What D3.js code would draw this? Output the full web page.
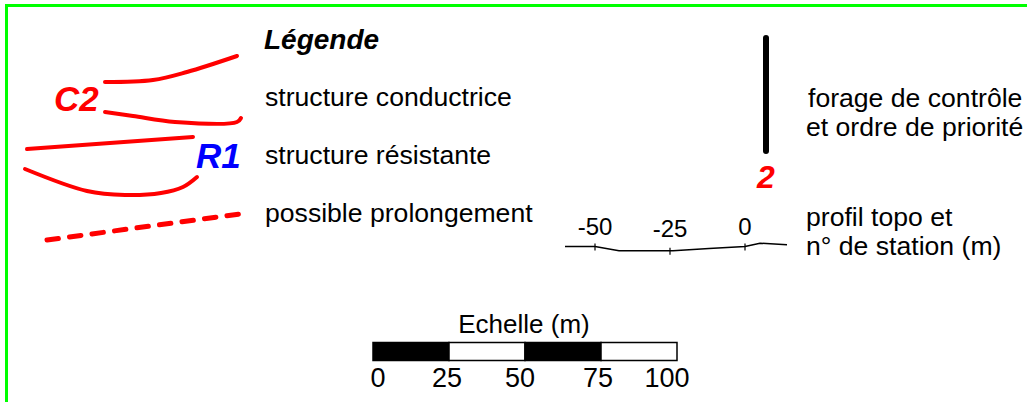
<!DOCTYPE html>
<html><head><meta charset="utf-8">
<script src="https://cdn.jsdelivr.net/npm/d3@7"></script>
<style>html,body{margin:0;padding:0;background:#fff;overflow:hidden}svg{display:block}text{font-family:"Liberation Sans",Arial,sans-serif}</style>
</head><body><svg id="c" width="1027" height="402"></svg>
<script>
// ---- data ----
const legendTitle = "Légende";
const legendLabels = ["structure conductrice", "structure résistante", "possible prolongement"];
const boreholeLabel = ["forage de contrôle", "et ordre de priorité"];
const boreholeRank = "2";
const topoLabel = ["profil topo et", "n° de station (m)"];
const topoStations = [-50, -25, 0];
const topoDist = [-60, -50, -42, -24, -12, 0, 5, 14];
const topoElev = [0, 0, -1.4, -1.4, -0.7, 0, 1.1, 0.6];
const scaleTitle = "Echelle (m)";
const scaleTicks = [0, 25, 50, 75, 100];
const conductorLabel = "C2";
const resistorLabel = "R1";
// symbol shapes in a local 0..100 frame
const c2Upper = [[0, 0], [24, 1], [41, 5], [66, 13]];
const c2Lower = [[0, -15], [14, -17], [35, -20], [66, -20], [68, -18]];
const r1Upper = [[0, 0], [83, 6]];
const r1Lower = [[-1, -10], [30, -21], [49, -23], [67, -22], [78, -19], [85, -14]];
const dashLine = [[0, 0], [100, 13.5]];

const svg = d3.select("#c");

// frame
svg.append("path").attr("d", "M6.5,402 V5.5 H1027").attr("fill", "none")
  .attr("stroke", "#00ff00").attr("stroke-width", 3);

// symbol scales (2 px per unit)
const sx = d3.scaleLinear().domain([0, 100]).range([0, 200]);
const sy = d3.scaleLinear().domain([0, 100]).range([0, -200]);
const line = d3.line().x(d => sx(d[0])).y(d => sy(d[1])).curve(d3.curveCatmullRom.alpha(0.5));
function drawSym(pts, tx, ty, dash) {
  const p = svg.append("path").attr("transform", `translate(${tx},${ty})`)
    .attr("d", line(pts)).attr("fill", "none").attr("stroke", "#ff0000")
    .attr("stroke-width", dash ? 5 : 4).attr("stroke-linecap", "round");
  if (dash) p.attr("stroke-dasharray", "11.5 11.2");
}
drawSym(c2Upper, 105, 82, false);
drawSym(c2Lower, 105, 82, false);
drawSym(r1Upper, 27, 149, false);
drawSym(r1Lower, 27, 149, false);
drawSym(dashLine, 47, 240, true);

svg.append("text").attr("x", 54).attr("y", 111).text(conductorLabel)
  .attr("fill", "#ff0000").attr("font-size", 35).attr("font-weight", "bold").attr("font-style", "italic");
svg.append("text").attr("x", 196).attr("y", 168).text(resistorLabel)
  .attr("fill", "#0000ff").attr("font-size", 35).attr("font-weight", "bold").attr("font-style", "italic");

// legend texts
svg.append("text").attr("x", 264).attr("y", 49).text(legendTitle)
  .attr("font-size", 28).attr("font-weight", "bold").attr("font-style", "italic");
const ly = d3.scalePoint().domain(legendLabels).range([106, 222]);
svg.selectAll("text.lab").data(legendLabels).join("text").attr("class", "lab")
  .attr("x", 265).attr("y", d => ly(d)).text(d => d).attr("font-size", 26.6);

// borehole
svg.append("line").attr("x1", 766).attr("x2", 766).attr("y1", 38).attr("y2", 151)
  .attr("stroke", "#000").attr("stroke-width", 6).attr("stroke-linecap", "round");
svg.append("text").attr("x", 766).attr("y", 188).attr("text-anchor", "middle").text(boreholeRank)
  .attr("fill", "#ff0000").attr("font-size", 32).attr("font-weight", "bold").attr("font-style", "italic");
svg.selectAll("text.bh").data(boreholeLabel).join("text").attr("class", "bh")
  .attr("x", (d, i) => i ? 806 : 808).attr("y", (d, i) => 107 + i * 28.5).text(d => d).attr("font-size", 26.6);

// topo profile
const tx = d3.scaleLinear().domain([-50, 0]).range([595, 745]);
const ty = d3.scaleLinear().domain([0, 1]).range([246.5, 243.5]);
svg.append("path").attr("d", d3.line().x((d, i) => tx(d)).y((d, i) => ty(topoElev[i]))(topoDist))
  .attr("fill", "none").attr("stroke", "#000").attr("stroke-width", 1.5);
const interp = x => { // elevation along the profile at a station
  for (let i = 0; i < topoDist.length - 1; i++) if (x >= topoDist[i] && x <= topoDist[i + 1]) {
    const t = (x - topoDist[i]) / (topoDist[i + 1] - topoDist[i]);
    return topoElev[i] + t * (topoElev[i + 1] - topoElev[i]);
  } return 0;
};
svg.selectAll("line.tt").data(topoStations).join("line").attr("class", "tt")
  .attr("x1", d => tx(d)).attr("x2", d => tx(d))
  .attr("y1", d => ty(interp(d)) - 3).attr("y2", d => ty(interp(d)) + 4)
  .attr("stroke", "#000").attr("stroke-width", 1.2);
svg.selectAll("text.ts").data(topoStations).join("text").attr("class", "ts")
  .attr("x", d => tx(d)).attr("y", (d, i) => i === 1 ? 237 : 235).attr("text-anchor", "middle")
  .text(d => d).attr("font-size", 24);
svg.selectAll("text.tl").data(topoLabel).join("text").attr("class", "tl")
  .attr("x", 806).attr("y", (d, i) => 226 + i * 28.5).text(d => d).attr("font-size", 26.6);

// scale bar
const bx = d3.scaleLinear().domain([0, 100]).range([373, 677]);
svg.append("text").attr("x", 524).attr("y", 333).attr("text-anchor", "middle").text(scaleTitle).attr("font-size", 26);
const segs = d3.pairs(scaleTicks);
svg.selectAll("rect.seg").data(segs).join("rect").attr("class", "seg")
  .attr("x", d => bx(d[0])).attr("width", d => bx(d[1]) - bx(d[0]))
  .attr("y", 342.5).attr("height", 18)
  .attr("fill", (d, i) => i % 2 ? "#fff" : "#000").attr("stroke", "#000").attr("stroke-width", 1.5);
svg.selectAll("text.sc").data(scaleTicks).join("text").attr("class", "sc")
  .attr("x", d => bx(d)).attr("dx", (d, i) => [5, -2, -5, -3, -10][i]).attr("y", 387).attr("text-anchor", "middle")
  .text(d => d).attr("font-size", 27);
</script></body></html>
